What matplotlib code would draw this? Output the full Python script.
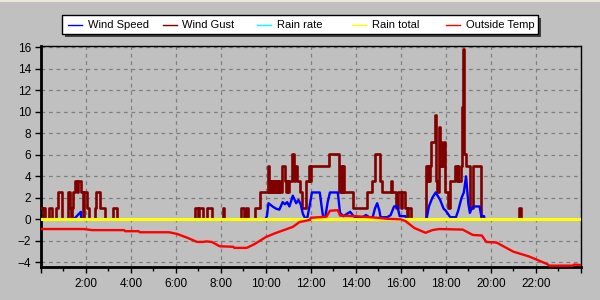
import numpy as np
import matplotlib
matplotlib.use('Agg')
import matplotlib.pyplot as plt
from matplotlib.ticker import MultipleLocator, FuncFormatter
from matplotlib.patches import Rectangle
from matplotlib.lines import Line2D

# Данные (часы суток -> значения)
gust_t = [0.00, 0.10, 0.13, 0.20, 0.38, 0.50, 0.67, 0.78, 0.95, 1.20, 1.28, 1.35, 1.40, 1.45,
          1.52, 1.62, 1.66, 1.78, 1.86, 1.90, 2.05, 2.12, 2.40, 2.45, 2.62, 2.85, 3.23, 3.37,
          6.86, 6.98, 7.02, 7.20, 7.38, 7.60, 8.09, 8.15, 8.90, 9.05, 9.13, 9.23, 9.50, 9.75,
          10.08, 10.10, 10.14, 10.18, 10.22, 10.26, 10.30, 10.34, 10.38, 10.42, 10.46, 10.50,
          10.54, 10.58, 10.62, 10.70, 10.85, 10.89, 10.93, 10.97, 11.01, 11.10, 11.18, 11.25,
          11.30, 11.40, 11.50, 11.60, 11.80, 11.85, 11.90, 11.95, 12.00, 12.82, 13.26, 13.35,
          13.39, 13.43, 13.47, 13.50, 13.88, 14.48, 14.70, 14.85, 15.07, 15.15, 15.55, 15.62,
          15.80, 15.88, 16.00, 16.07, 16.20, 16.28, 16.32, 16.44, 17.12, 17.16, 17.20, 17.25,
          17.30, 17.36, 17.50, 17.58, 17.63, 17.70, 17.75, 17.80, 17.85, 17.90, 17.95, 18.10,
          18.17, 18.40, 18.48, 18.52, 18.55, 18.68, 18.72, 18.75, 18.82, 18.90, 19.06, 19.20,
          19.58, 21.25, 21.35, 24.00]
gust_v = [1.1, 0, 1.1, 0, 1.1, 0, 1.1, 2.5, 0, 2.5, 1.1, 0, 1.1, 2.5,
          3.6, 2.5, 3.6, 2.5, 0, 2.5, 1.1, 0, 1.1, 2.5, 1.1, 0, 1.1, 0,
          1.1, 0, 1.1, 0, 1.1, 0, 1.1, 0, 1.1, 0, 1.1, 0, 1.1, 2.5,
          3.6, 5.0, 2.5, 3.6, 2.5, 3.6, 2.5, 3.6, 2.5, 3.6, 2.5, 3.6,
          2.5, 3.6, 2.5, 5.0, 3.6, 2.5, 3.6, 2.5, 3.6, 3.6, 6.1, 3.6,
          5.0, 3.6, 2.5, 1.1, 3.6, 3.6, 5.0, 3.6, 5.0, 6.1, 2.5, 5.0,
          2.5, 5.0, 2.5, 2.5, 1.1, 2.5, 3.6, 6.1, 3.6, 2.5, 3.6, 2.5,
          1.1, 2.5, 1.1, 2.5, 1.1, 0, 1.1, 0, 5.0, 3.6, 5.0, 3.6,
          5.0, 7.2, 9.7, 3.6, 2.5, 8.6, 5.0, 7.2, 5.0, 7.2, 2.5, 1.1,
          3.6, 5.0, 3.6, 5.0, 3.6, 5.0, 10.4, 15.8, 6.1, 5.0, 1.1, 5.0,
          0, 1.1, 0, 0]

speed_t = [0.00, 1.45, 1.60, 1.78, 1.80, 9.98, 10.05, 10.12, 10.30, 10.45, 10.60, 10.75, 10.85,
           10.95, 11.05, 11.20, 11.35, 11.45, 11.55, 11.65, 11.75, 11.85, 11.97, 12.05, 12.40,
           12.48, 12.55, 12.65, 12.75, 12.85, 13.20, 13.30, 13.45, 13.60, 13.75, 13.90, 14.00,
           14.30, 14.45, 14.60, 14.75, 14.85, 14.95, 15.05, 15.10, 15.40, 15.55, 15.70, 15.85,
           15.95, 16.20, 16.25, 17.14, 17.25, 17.40, 17.55, 17.75, 17.90, 18.00, 18.10, 18.20,
           18.45, 18.55, 18.70, 18.80, 18.90, 19.00, 19.07, 19.15, 19.25, 19.50, 19.58, 19.70,
           19.72, 24.00]
speed_v = [0, 0, 0.3, 0.7, 0, 0, 0.3, 1.5, 1.2, 1.0, 0.9, 1.6, 1.4,
           1.6, 1.2, 2.2, 1.5, 1.8, 1.4, 0.5, 0.1, 0.2, 1.5, 2.5, 2.5,
           1.2, 0.2, 0.3, 1.6, 2.5, 2.5, 0.6, 0.3, 0.5, 0.7, 0.3, 0.2,
           0.2, 0.4, 0.2, 0.2, 1.0, 1.5, 0.8, 0.2, 0.2, 0.4, 1.2, 1.2,
           0.3, 0.3, 0, 0, 1.2, 2.0, 2.5, 1.8, 1.0, 0.8, 0.5, 0.2,
           0.2, 0.8, 2.0, 2.5, 4.0, 1.5, 0.6, 1.0, 1.2, 1.2, 0.3, 0.3,
           0, 0]

temp_t = [0.00, 1.90, 2.28, 3.70, 3.75, 4.35, 4.40, 5.70, 6.05, 6.50, 6.95, 7.20, 7.35, 7.60,
          7.95, 8.55, 8.60, 9.15, 9.50, 10.00, 10.40, 10.80, 11.20, 11.50, 11.97, 12.00, 12.40,
          12.70, 12.85, 13.20, 13.30, 14.00, 14.95, 15.40, 16.00, 16.20, 16.60, 17.10, 17.40,
          17.70, 18.75, 19.20, 19.60, 19.80, 20.25, 21.00, 21.70, 22.50, 22.60, 23.65, 23.70, 24.00]
temp_v = [-0.9, -0.9, -1.0, -1.0, -1.1, -1.1, -1.2, -1.2, -1.35, -1.7, -2.1, -2.1, -2.05, -2.1,
          -2.5, -2.55, -2.65, -2.65, -2.3, -1.65, -1.3, -1.0, -0.7, -0.25, -0.05, 0.15, 0.2,
          0.25, 0.8, 0.85, 0.35, 0.3, 0.15, 0.05, 0.0, -0.15, -0.8, -1.25, -1.0,
          -0.9, -0.95, -1.45, -1.5, -2.1, -2.15, -3.0, -3.45, -4.15, -4.3, -4.3, -4.2, -4.25]

rain_t = [0, 24]
rain_rate = [0, 0]
rain_total = [0, 0]

labels = ['Wind Speed', 'Wind Gust', 'Rain rate', 'Rain total', 'Outside Temp']
colors = ['#0000ff', '#800000', '#00ffff', '#ffff00', '#ff0000']

bg = '#c0c0c0'
plt.rcParams['font.family'] = ['Liberation Sans', 'DejaVu Sans']

fig = plt.figure(figsize=(6, 3), dpi=100, facecolor=bg)
ax = fig.add_axes([0.068, 0.111, 0.9, 0.737])
ax.set_facecolor(bg)

ax.plot(gust_t, gust_v, color=colors[1], lw=1.9, drawstyle='steps-post', zorder=3)
ax.plot(speed_t, speed_v, color=colors[0], lw=1.7, zorder=4)
ax.plot(rain_t, rain_rate, color=colors[2], lw=1.5, zorder=5)
ax.plot(rain_t, rain_total, color=colors[3], lw=2.2, zorder=6)
ax.plot(temp_t, temp_v, color=colors[4], lw=1.7, zorder=7)

ax.set_xlim(0, 24)
ax.set_ylim(-4.4, 16.15)
ax.xaxis.set_major_locator(MultipleLocator(2))
ax.xaxis.set_minor_locator(MultipleLocator(1))
ax.yaxis.set_major_locator(MultipleLocator(2))
ax.xaxis.set_major_formatter(FuncFormatter(lambda h, p: '' if h <= 0 or h >= 24 else '%d:00' % h))
ax.grid(True, which='major', color='#808080', linestyle=(0, (3, 3)), linewidth=0.9, zorder=1)
ax.set_axisbelow(True)
ax.tick_params(axis='both', which='major', length=4, width=1, colors='black', labelsize=8.5, pad=3)
ax.tick_params(axis='x', which='minor', length=3, width=1)
ax.tick_params(axis='x', pad=4)

for side in ['left', 'bottom']:
    ax.spines[side].set_linewidth(2)
for side in ['top', 'right']:
    ax.spines[side].set_linewidth(1)

# Легенда вручную: белая рамка с тенью
W, H = 600.0, 300.0
bx0, by0, bw, bh = 62, 15, 476, 19
fig.patches.append(Rectangle(((bx0 + 3) / W, 1 - (by0 + bh + 3) / H), bw / W, bh / H,
                             transform=fig.transFigure, facecolor='#404040', edgecolor='none', zorder=1))
fig.patches.append(Rectangle((bx0 / W, 1 - (by0 + bh) / H), bw / W, bh / H,
                             transform=fig.transFigure, facecolor='white', edgecolor='black',
                             linewidth=1, zorder=2))
ly = 1 - (by0 + bh / 2) / H
for i, (lab, c) in enumerate(zip(labels, colors)):
    x0 = 68 + 94.5 * i
    fig.lines.append(Line2D([x0 / W, (x0 + 14) / W], [ly, ly], transform=fig.transFigure,
                            color=c, lw=1, zorder=3))
    fig.text((x0 + 20) / W, ly, lab, fontsize=8, va='center_baseline', ha='left', zorder=3)

# Светлая полоска сверху окна
fig.patches.append(Rectangle((0, 1 - 2 / H), 1, 2 / H, transform=fig.transFigure,
                             facecolor='#ece9d8', edgecolor='none', zorder=0))

fig.savefig('out.png', dpi=100, facecolor=bg)
